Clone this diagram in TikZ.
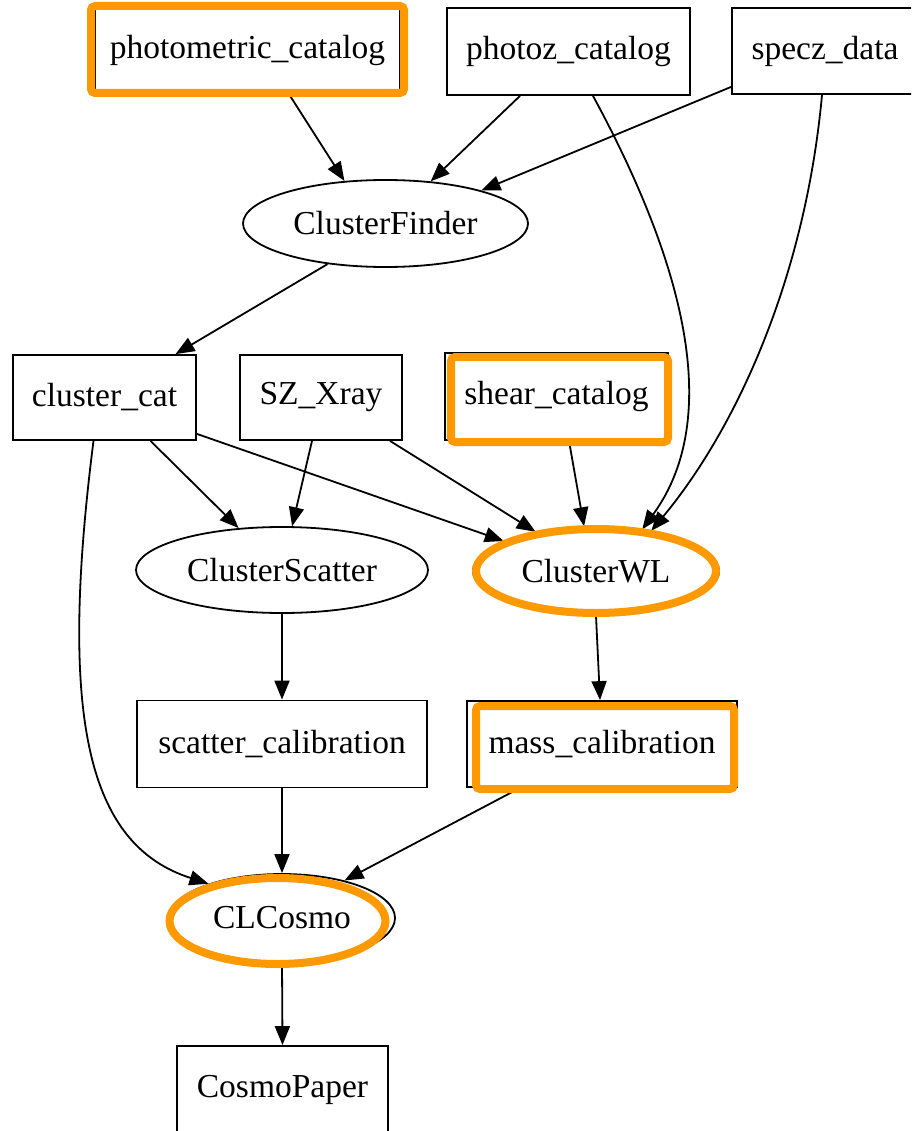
\documentclass[tikz,border=0pt]{standalone}
\usepackage{fontspec}
\setmainfont{Liberation Serif}
\usetikzlibrary{arrows.meta,shapes.geometric,calc}
\definecolor{hl}{HTML}{FF9900}
\begin{document}
\begin{tikzpicture}[x=1pt,y=-1pt,
  lbl/.style={font=\fontsize{33.5}{36}\selectfont, text=black},
  box/.style={lbl,draw,rectangle,line width=1.8pt,inner sep=0pt,fill=white},
  ell/.style={lbl,draw,ellipse,line width=1.8pt,inner sep=0pt,fill=white},
  edge/.style={draw,line width=1.8pt,-{Triangle[length=19pt,width=15pt]}},
  hlrect/.style={draw=hl,rectangle,line width=8pt,rounded corners=4pt,inner sep=0pt},
  hlell/.style={draw=hl,ellipse,line width=8pt,inner sep=0pt},
]
\useasboundingbox (0,0) rectangle (911,1131);
\clip (0,0) rectangle (911,1131);
\fill[white] (0,0) rectangle (911,1131);

% nodes
\node[box,minimum width=305pt,minimum height=85pt] (pc) at (247.5,50) {photometric\_catalog};
\node[box,minimum width=243pt,minimum height=87pt] (pz) at (568.5,51.5) {photoz\_catalog};
\node[box,minimum width=186pt,minimum height=86pt] (sd) at (825,51) {specz\_data};
\node[ell,minimum width=285pt,minimum height=87pt] (cf) at (385.5,223.5) {ClusterFinder};
\node[box,minimum width=183pt,minimum height=85pt] (cc) at (104.5,397.5) {cluster\_cat};
\node[box,minimum width=162pt,minimum height=85pt] (sz) at (321,397.5) {SZ\_Xray};
\node[box,minimum width=223pt,minimum height=87pt] (shc) at (556.5,396.5) {shear\_catalog};
\node[ell,minimum width=292pt,minimum height=86pt] (cs) at (282,570) {ClusterScatter};
\node[ell,minimum width=246pt,minimum height=88pt] (cwl) at (596,571) {ClusterWL};
\node[box,minimum width=290pt,minimum height=87pt] (scal) at (282,744) {scatter\_calibration};
\node[box,minimum width=270pt,minimum height=86pt] (mcal) at (602,744) {mass\_calibration};
\node[ell,minimum width=226pt,minimum height=88pt] (clc) at (282,918) {CLCosmo};
\node[box,minimum width=211pt,minimum height=87pt] (cp) at (282.5,1089.5) {CosmoPaper};

% edges
\draw[edge] ($(pc.south)+(41,0)$) -- (cf.134);
\draw[edge] ($(pz.south)+(-48.5,0)$) -- (cf.43);
\draw[edge] ($(sd.south west)+(0,-8)$) -- (cf.19);
\draw[edge] ($(pz.south)+(24.5,0)$) .. controls (720,330) and (700,450) .. (cwl.42);
\draw[edge] ($(sd.south)+(-3,0)$) .. controls (805,280) and (735,430) .. (cwl.36);
\draw[edge] (cf.215) -- ($(cc.north)+(71,0)$);
\draw[edge] ($(cc.south)+(46,0)$) -- (cs.136);
\draw[edge] ($(cc.south east)+(0,-7)$) -- (cwl.162);
\draw[edge] ($(cc.south)+(-11,0)$) .. controls (58,720) and (88,845) .. (clc.155);
\draw[edge] ($(sz.south)+(-9,0)$) -- (cs.77);
\draw[edge] ($(sz.south)+(69,0)$) -- (cwl.147);
\draw[edge] ($(shc.south)+(12.5,0)$) -- (cwl.105);
\draw[edge] (cs.south) -- (scal.north);
\draw[edge] (cwl.south) -- ($(mcal.north)+(-2,0)$);
\draw[edge] (scal.south) -- (clc.north);
\draw[edge] ($(mcal.south)+(-82,0)$) -- (clc.31);
\draw[edge] (clc.south) -- (cp.north);

% orange highlights
\node[hlrect,minimum width=313pt,minimum height=87pt] (pc-hl) at (247.5,49.5) {};
\node[hlrect,minimum width=217pt,minimum height=85pt] (shc-hl) at (559.5,399.5) {};
\node[hlrect,minimum width=258pt,minimum height=83pt] (mcal-hl) at (605,747.5) {};
\node[hlell,minimum width=240pt,minimum height=84pt] (cwl-hl) at (596,571) {};
\node[hlell,minimum width=216pt,minimum height=86pt] (clc-hl) at (277.5,921) {};
\end{tikzpicture}
\end{document}
